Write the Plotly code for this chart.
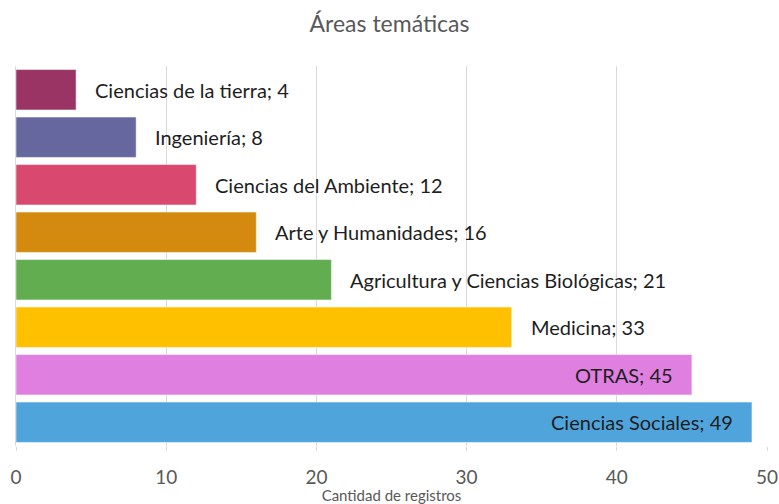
import plotly.graph_objects as go

categories = ["Ciencias de la tierra", "Ingeniería", "Ciencias del Ambiente", "Arte y Humanidades",
              "Agricultura y Ciencias Biológicas", "Medicina", "OTRAS", "Ciencias Sociales"]
values = [4, 8, 12, 16, 21, 33, 45, 49]
colors = ["#993464", "#67679f", "#d8486f", "#d48a0e", "#62ad50", "#ffc000", "#df80e1", "#4fa4dc"]
inside = [False, False, False, False, False, False, True, True]
x_ticks = [0, 10, 20, 30, 40, 50]

FONT = "Lato"

fig = go.Figure()
fig.add_trace(go.Bar(
    y=categories, x=values, orientation="h",
    marker=dict(color=colors, line=dict(color="rgba(255,255,255,0.5)", width=1)),
    hoverinfo="skip",
))

for c, v, ins in zip(categories, values, inside):
    fig.add_annotation(
        x=v, y=c, text=f"{c}; {v}", showarrow=False,
        xanchor="right" if ins else "left",
        xshift=-17 if ins else 17,
        font=dict(family=FONT, size=20, color="#1e1e1e"),
    )

fig.update_layout(
    width=779, height=504,
    margin=dict(l=16, r=12, t=66, b=58, autoexpand=False),
    paper_bgcolor="white", plot_bgcolor="white",
    title=dict(text="Áreas temáticas", x=0.5, xanchor="center", y=0.952, yanchor="middle",
               font=dict(family=FONT, size=23, color="#595959")),
    bargap=0.15,
    showlegend=False,
    xaxis=dict(range=[0, 50], tickvals=x_ticks, showgrid=True, gridcolor="#d9d9d9", gridwidth=1,
               zeroline=False, showline=False, ticks="outside", ticklen=4, tickcolor="#d9d9d9",
               automargin=False, ticklabelstandoff=10,
               tickfont=dict(family=FONT, size=19, color="#595959"),
               title=dict(text="Cantidad de registros", standoff=4,
                          font=dict(family=FONT, size=15, color="#595959"))),
    yaxis=dict(autorange="reversed", showticklabels=False, showgrid=False, zeroline=False,
               automargin=False,
               showline=True, linecolor="#d9d9d9", linewidth=1),
)

fig.write_html("out.html", config={"displayModeBar": False},
               post_script="document.body.style.margin='0';")
